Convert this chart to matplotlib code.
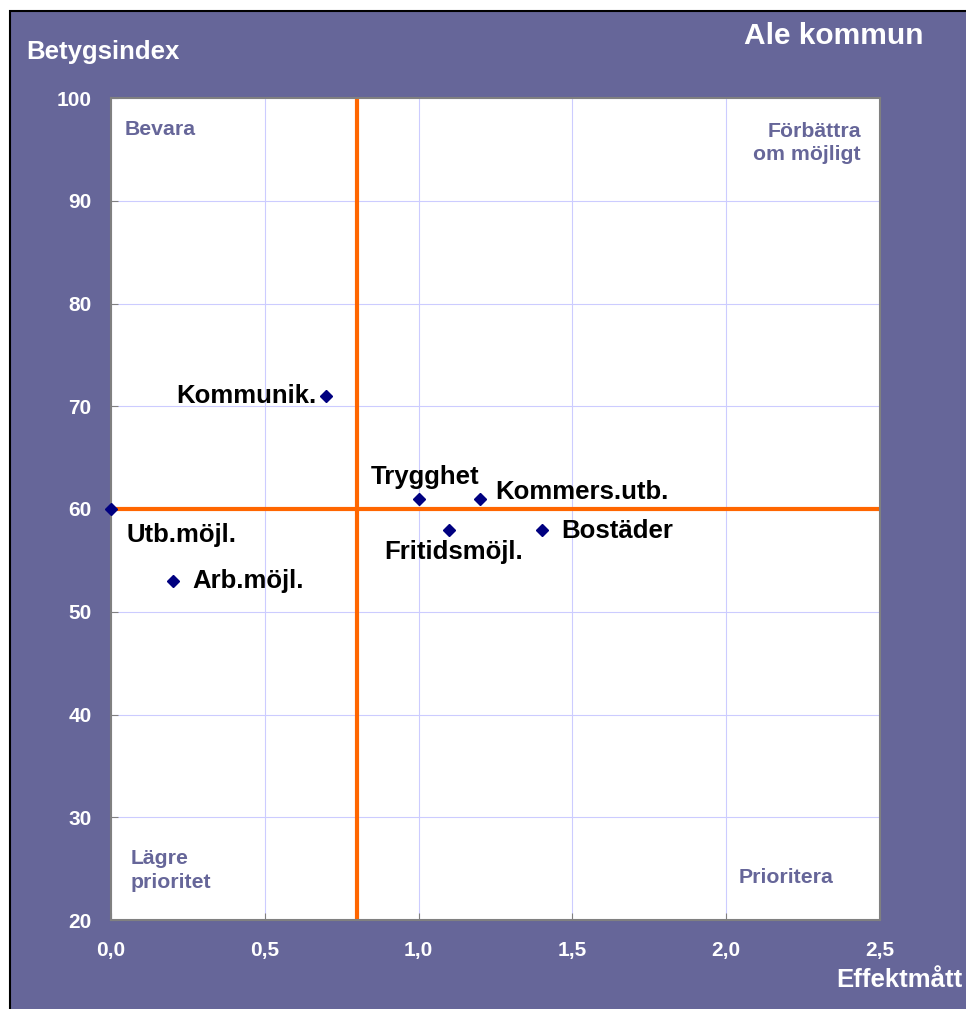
import matplotlib
matplotlib.use('Agg')
import matplotlib.pyplot as plt
from matplotlib.patches import Rectangle

# data
labels = ['Kommunik.', 'Trygghet', 'Kommers.utb.', 'Utb.möjl.', 'Fritidsmöjl.', 'Bostäder', 'Arb.möjl.']
effekt = [0.7, 1.0, 1.2, 0.0, 1.1, 1.4, 0.2]
betyg = [71, 61, 61, 60, 58, 58, 53]
xticks = [0.0, 0.5, 1.0, 1.5, 2.0, 2.5]
xticklabels = ['0,0', '0,5', '1,0', '1,5', '2,0', '2,5']
yticks = [20, 30, 40, 50, 60, 70, 80, 90, 100]
x_split = 0.8
y_split = 60

# label offsets (points) and alignment per label
offsets = {
    'Kommunik.': (-7, 0, 'right'),
    'Trygghet': (5, 16, 'center'),
    'Kommers.utb.': (11, 5, 'left'),
    'Utb.möjl.': (11, -19, 'left'),
    'Fritidsmöjl.': (3, -16, 'center'),
    'Bostäder': (14, -1, 'left'),
    'Arb.möjl.': (14, 0, 'left'),
}

purple = '#666699'
orange = '#ff6600'

plt.rcParams['font.family'] = ['Liberation Sans', 'DejaVu Sans']
plt.rcParams['font.weight'] = 'bold'

fig = plt.figure(figsize=(9.66, 10.09), dpi=100, facecolor='white')
fig.patches.append(Rectangle((10 / 966, -0.01), 1.0, (1009 - 11) / 1009 + 0.01,
                             transform=fig.transFigure, facecolor=purple,
                             edgecolor='black', linewidth=1.5, zorder=-5))

ax = fig.add_axes([111 / 966, 1 - 920 / 1009, 769 / 966, 822 / 1009], zorder=2)
ax.set_facecolor('white')
ax.set_xlim(0, 2.5)
ax.set_ylim(20, 100)

ax.set_xticks(xticks)
ax.set_xticklabels(xticklabels)
ax.set_yticks(yticks)
ax.tick_params(direction='in', length=5, color='#808080', labelcolor='white',
               labelsize=15)
ax.tick_params(axis='y', pad=14)
ax.tick_params(axis='x', pad=15)
for lbl in ax.get_xticklabels() + ax.get_yticklabels():
    lbl.set_fontweight('bold')

ax.grid(True, color='#ccccff', linewidth=0.8, zorder=1)
ax.set_axisbelow(True)
for sp in ax.spines.values():
    sp.set_color('#808080')
    sp.set_linewidth(1.5)

ax.axvline(x_split, color=orange, linewidth=3, zorder=2)
ax.axhline(y_split, color=orange, linewidth=3, zorder=2)

ax.plot(effekt, betyg, linestyle='none', marker='D', markersize=6.5,
        color='#000080', zorder=4, clip_on=False)

for name, xv, yv in zip(labels, effekt, betyg):
    dx, dy, ha = offsets[name]
    ax.annotate(name, (xv, yv), xytext=(dx, dy), textcoords='offset points',
                ha=ha, va='center', fontsize=18.5, fontweight='bold', color='black',
                zorder=5)

qkw = dict(transform=ax.transAxes, color=purple, fontsize=15.3, fontweight='bold',
           linespacing=1.3)
ax.text(0.018, 0.962, 'Bevara', ha='left', va='center', **qkw)
ax.text(0.975, 0.945, 'Förbättra\nom möjligt', ha='right', va='center',
        multialignment='right', **qkw)
ax.text(0.026, 0.060, 'Lägre\nprioritet', ha='left', va='center', **qkw)
ax.text(0.940, 0.052, 'Prioritera', ha='right', va='center', **qkw)

fig.text(924 / 966, 1 - 36 / 1009, 'Ale kommun', ha='right', va='center',
         color='white', fontsize=21.5, fontweight='bold')
fig.text(26 / 966, 1 - 52 / 1009, 'Betygsindex', ha='left', va='center',
         color='white', fontsize=18.5, fontweight='bold')
fig.text(963 / 966, 1 - 980 / 1009, 'Effektmått', ha='right', va='center',
         color='white', fontsize=18.5, fontweight='bold')

fig.savefig('out.png', dpi=100, facecolor='white')
